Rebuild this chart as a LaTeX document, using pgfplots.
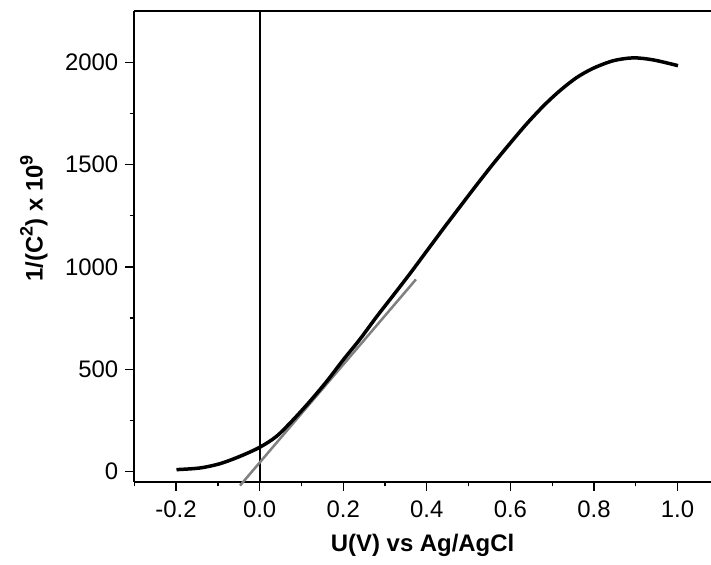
\documentclass[border=0pt]{standalone}
\usepackage{fontspec}
\setmainfont{Liberation Sans}
\usepackage{pgfplots}
\pgfplotsset{compat=1.18}
\definecolor{fitgray}{RGB}{128,128,128}
\newcommand{\mysup}[1]{\raisebox{0.42em}{\fontsize{9}{10}\selectfont\bfseries #1}}
\begin{document}
\begin{tikzpicture}
\begin{axis}[
  scale only axis,
  width=288.4bp, height=235.5bp,
  xmin=-0.3, xmax=1.08,
  ymin=-50, ymax=2250,
  axis x line=box,
  axis y line*=left,
  xtick pos=left,
  ytick pos=left,
  clip=false,
  tick align=outside,
  major tick length=4.5bp,
  minor tick length=2.25bp,
  every tick/.style={black, line width=0.65bp},
  axis line style={black, line width=1bp},
  xtick={-0.2,0,0.2,0.4,0.6,0.8,1.0},
  xticklabels={-0.2,0.0,0.2,0.4,0.6,0.8,1.0},
  minor xtick={-0.3,-0.1,0.1,0.3,0.5,0.7,0.9},
  ytick={0,500,1000,1500,2000},
  yticklabels={0,500,1000,1500,2000},
  minor ytick={250,750,1250,1750},
  /pgf/number format/assume math mode=true,
  tick label style={font=\fontsize{12}{14}\selectfont},
  xticklabel style={yshift=-1.5bp},
  xlabel={\textbf{U(V) vs Ag/AgCl}},
  ylabel={\textbf{1/(C\mysup{2}) x 10\mysup{9}}},
  label style={font=\fontsize{12}{14}\selectfont},
  xlabel style={at={(rel axis cs:0.5,-0.134)}, anchor=center},
  ylabel style={at={(rel axis cs:-0.174,0.56)}, anchor=center, rotate=0},
]
\addplot[black, line width=0.9bp] coordinates {(0,-50) (0,2250)};
\addplot[fitgray, line width=1.25bp] coordinates {(-0.047,-68) (0.374,939)};
\addplot[black, line width=1.75bp, smooth] coordinates {
(-0.199,10) (-0.143,18) (-0.095,39) (-0.047,75) (0.0,119) (0.04,172)
(0.08,253) (0.12,343) (0.16,440) (0.2,546) (0.24,647) (0.28,757)
(0.32,862) (0.36,968) (0.40,1078) (0.44,1188) (0.479,1293) (0.519,1400) (0.559,1504)
(0.599,1603) (0.639,1699) (0.68,1788) (0.718,1860) (0.758,1924) (0.798,1970) (0.846,2007)
(0.894,2021) (0.942,2011) (1.001,1983)};
\coordinate (bl) at (axis cs:-0.6213,-455.3);
\coordinate (tr) at (axis cs:1.08,2303.7);
\end{axis}
\pgfresetboundingbox
\path[use as bounding box] (bl) rectangle (tr);
\end{tikzpicture}
\end{document}
